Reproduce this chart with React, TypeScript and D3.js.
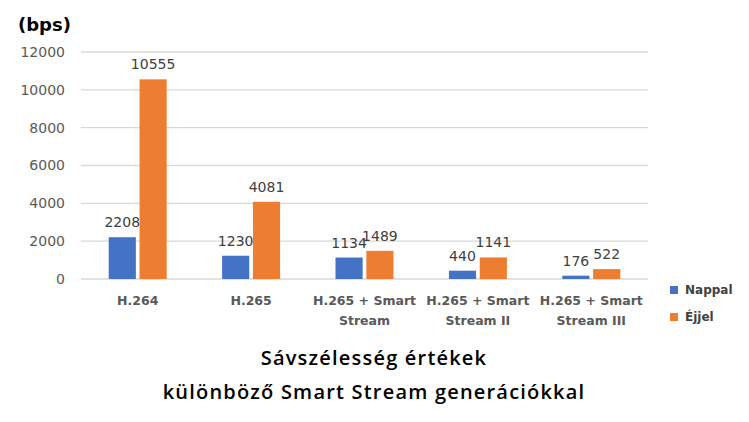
import React from 'react';
import * as d3 from 'd3';

const CATEGORIES = ['H.264', 'H.265', 'H.265 + Smart Stream', 'H.265 + Smart Stream II', 'H.265 + Smart Stream III'];
const CATEGORY_LINES = [['H.264'], ['H.265'], ['H.265 + Smart', 'Stream'], ['H.265 + Smart', 'Stream II'], ['H.265 + Smart', 'Stream III']];
const SERIES = ['Nappal', 'Éjjel'];
const NAPPAL = [2208, 1230, 1134, 440, 176];
const EJJEL = [10555, 4081, 1489, 1141, 522];
const Y_TICKS = [0, 2000, 4000, 6000, 8000, 10000, 12000];
const TITLE = ['Sávszélesség értékek', 'különböző Smart Stream generációkkal'];

const W = 749;
const H = 422;
const COLORS = ['#4472C4', '#ED7D31'];
const LEFT = 81;
const RIGHT = 648;
const TOP = 52;
const BOTTOM = 279;
const GROUP_W = 58;

export default function App() {
  const x = d3.scaleBand<string>().domain(CATEGORIES).range([LEFT, RIGHT]);
  const xInner = d3.scaleBand<string>().domain(SERIES).range([0, GROUP_W]).paddingInner(0.12);
  const y = d3.scaleLinear().domain([0, 12000]).range([BOTTOM, TOP]);
  const values = [NAPPAL, EJJEL];
  const font = '"DejaVu Sans", sans-serif';

  return (
    <svg width={W} height={H} style={{ position: 'absolute', left: 0, top: 0, background: '#fff' }}>
      <text x={18} y={31} fontFamily={font} fontWeight="bold" fontSize={18} fill="#000">(bps)</text>
      {Y_TICKS.map((t) => (
        <g key={t}>
          <line x1={LEFT} x2={RIGHT} y1={y(t)} y2={y(t)} stroke="#d9d9d9" strokeWidth={1.3} />
          <text x={65} y={y(t)} dy="0.35em" textAnchor="end" fontFamily={font} fontSize={14} fill="#595959">{t}</text>
        </g>
      ))}
      {CATEGORIES.map((c, i) => {
        const x0 = (x(c) ?? 0) + x.bandwidth() / 2 - GROUP_W / 2;
        return (
          <g key={c}>
            {SERIES.map((s, j) => {
              const v = values[j][i];
              const bx = x0 + (xInner(s) ?? 0);
              return (
                <g key={s}>
                  <rect x={bx} y={y(v)} width={xInner.bandwidth()} height={BOTTOM - y(v)} fill={COLORS[j]} />
                  <text x={bx + xInner.bandwidth() / 2} y={y(v) - 10} textAnchor="middle" fontFamily={font} fontSize={14} fill="#404040">{v}</text>
                </g>
              );
            })}
            {CATEGORY_LINES[i].map((ln, k) => (
              <text key={k} x={(x(c) ?? 0) + x.bandwidth() / 2} y={305 + k * 20} textAnchor="middle" fontFamily={font} fontWeight="bold" fontSize={12.5} fill="#595959">{ln}</text>
            ))}
          </g>
        );
      })}
      {SERIES.map((s, j) => (
        <g key={s} transform={`translate(670,${286 + j * 27})`}>
          <rect width={8} height={8} fill={COLORS[j]} />
          <text x={15} y={8} fontFamily={font} fontWeight="bold" fontSize={12} fill="#404040">{s}</text>
        </g>
      ))}
      {TITLE.map((t, k) => (
        <text key={k} x={374} y={365 + k * 34} textAnchor="middle" fontFamily='"Open Sans", sans-serif' fontWeight={600} fontSize={20} letterSpacing={1.2} fill="#000">{t}</text>
      ))}
    </svg>
  );
}
